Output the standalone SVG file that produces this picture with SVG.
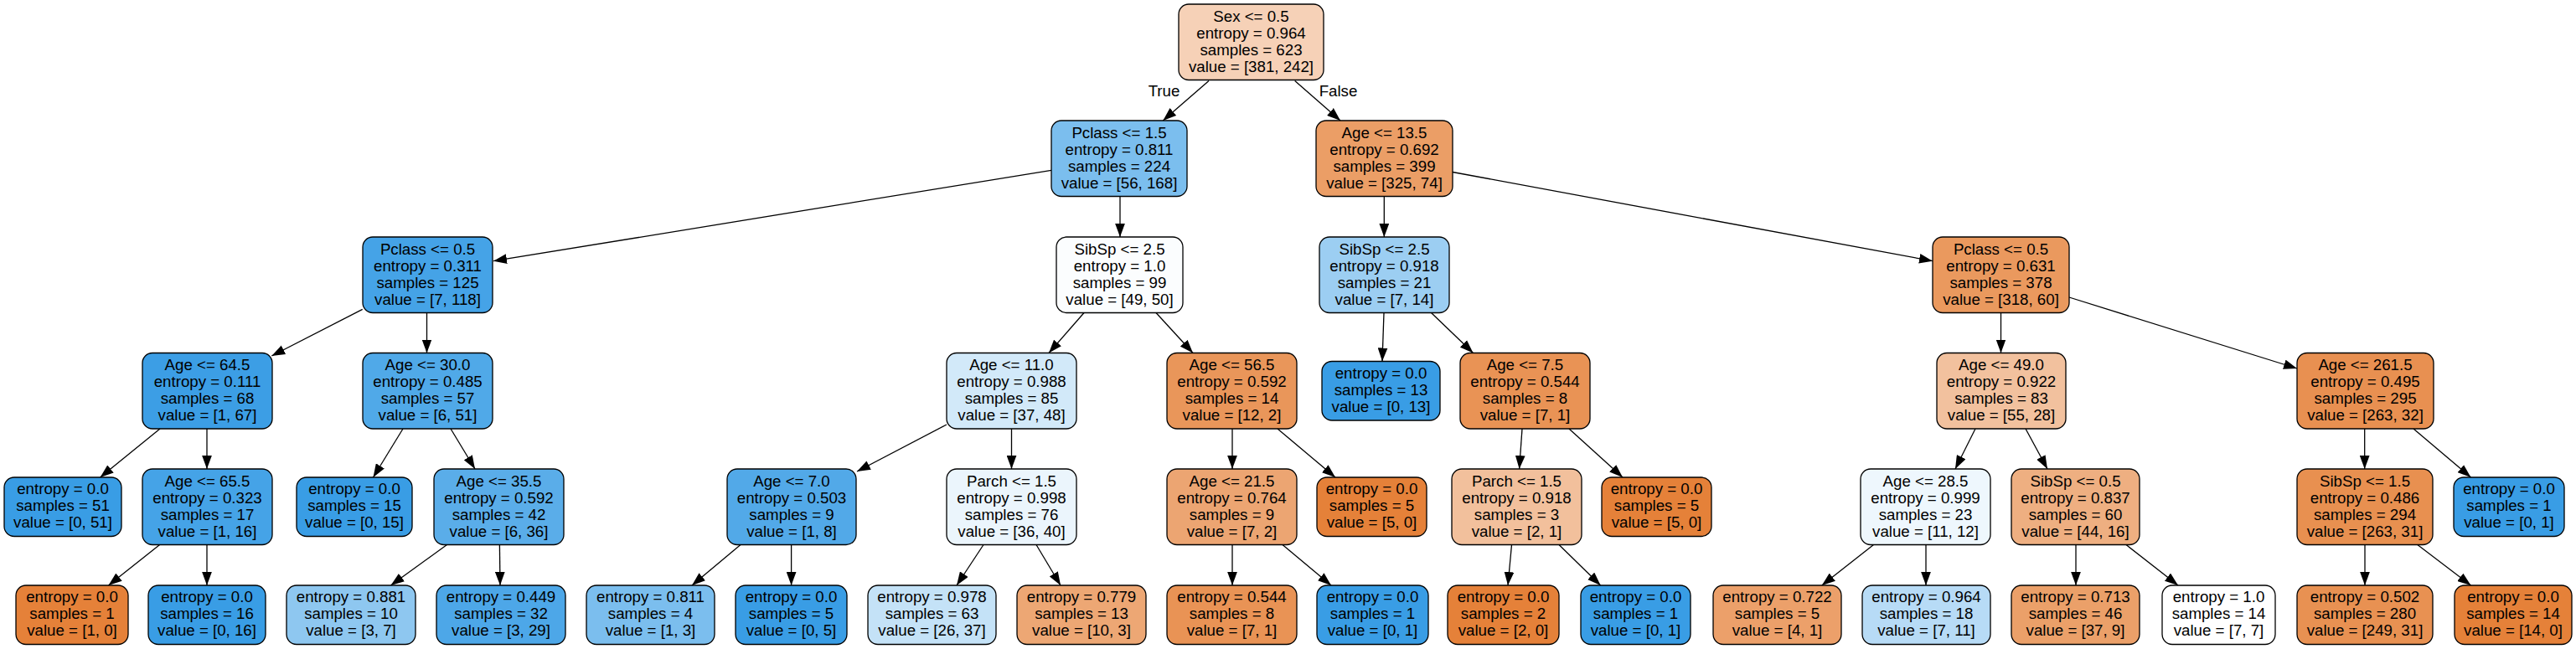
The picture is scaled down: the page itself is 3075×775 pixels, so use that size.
<svg xmlns="http://www.w3.org/2000/svg" width="3075" height="775" viewBox="0 0 3075 775">
<style>
.n rect{stroke:#000;stroke-width:1.3}
text{font-family:"Liberation Sans",Arial,sans-serif;font-size:18.7px;fill:#000;text-anchor:middle}
.e line{stroke:#000;stroke-width:1.3;marker-end:url(#ah)}
</style>
<defs>
<marker id="ah" markerUnits="userSpaceOnUse" markerWidth="16" markerHeight="12" viewBox="0 0 15 11" refX="15" refY="5.5" orient="auto">
<path d="M0,0 L15,5.5 L0,11 z" fill="#000"/>
</marker>
</defs>
<rect width="3075" height="775" fill="#fff"/>
<g id="edges" class="e">
<line x1="1443" y1="96.5" x2="1388.3" y2="144"/>
<line x1="1545.7" y1="96.5" x2="1600" y2="144"/>
<line x1="1255" y1="203.3" x2="589" y2="311.7"/>
<line x1="1337" y1="234.5" x2="1337" y2="283"/>
<line x1="1652.3" y1="234.5" x2="1652.3" y2="283"/>
<line x1="1734" y1="205.5" x2="2307" y2="311.7"/>
<line x1="432.7" y1="369.3" x2="324.3" y2="425"/>
<line x1="509.5" y1="373.5" x2="509.5" y2="421.5"/>
<line x1="1294" y1="373.5" x2="1252" y2="421.5"/>
<line x1="1380" y1="373.5" x2="1424" y2="421.5"/>
<line x1="1652" y1="373.5" x2="1650" y2="431.5"/>
<line x1="1708.5" y1="373.5" x2="1758.5" y2="421.5"/>
<line x1="2388.5" y1="373.5" x2="2388.5" y2="421.5"/>
<line x1="2470" y1="355" x2="2742" y2="440"/>
<line x1="191" y1="512" x2="119.6" y2="570"/>
<line x1="247" y1="512" x2="247" y2="560"/>
<line x1="481" y1="512" x2="445.5" y2="570"/>
<line x1="538" y1="512" x2="567" y2="560"/>
<line x1="1130" y1="507" x2="1023" y2="563"/>
<line x1="1207.5" y1="512" x2="1207.5" y2="560"/>
<line x1="1471" y1="512" x2="1471" y2="560"/>
<line x1="1525" y1="512" x2="1594" y2="570"/>
<line x1="1817" y1="512" x2="1813.6" y2="560"/>
<line x1="1873" y1="512" x2="1937" y2="570"/>
<line x1="2358" y1="512" x2="2334" y2="560"/>
<line x1="2418" y1="512" x2="2444" y2="560"/>
<line x1="2822.7" y1="512" x2="2822.7" y2="560"/>
<line x1="2881" y1="512" x2="2949.5" y2="570"/>
<line x1="190.6" y1="650.5" x2="129.5" y2="699"/>
<line x1="247" y1="650.5" x2="247" y2="699"/>
<line x1="533.5" y1="650.5" x2="466.5" y2="699"/>
<line x1="596.4" y1="650.5" x2="597" y2="699"/>
<line x1="884" y1="650.5" x2="826" y2="699"/>
<line x1="944.6" y1="650.5" x2="944.6" y2="699"/>
<line x1="1174" y1="650.5" x2="1142" y2="699"/>
<line x1="1237" y1="650.5" x2="1266" y2="699"/>
<line x1="1471" y1="650.5" x2="1471" y2="699"/>
<line x1="1531" y1="650.5" x2="1589" y2="699"/>
<line x1="1804.5" y1="650.5" x2="1800" y2="699"/>
<line x1="1861" y1="650.5" x2="1910.6" y2="699"/>
<line x1="2236.5" y1="650.5" x2="2174.8" y2="699"/>
<line x1="2299" y1="650.5" x2="2299" y2="699"/>
<line x1="2478" y1="650.5" x2="2478" y2="699"/>
<line x1="2538" y1="650.5" x2="2600" y2="699"/>
<line x1="2823" y1="650.5" x2="2823" y2="699"/>
<line x1="2885.8" y1="650.5" x2="2949.5" y2="699"/>
<text x="1389.5" y="114.5">True</text>
<text x="1597.5" y="114.5">False</text>
</g>

<g id="n0" class="n"><rect x="1407" y="5" width="173" height="90.5" rx="12" fill="#f6d1b7"/>
<text x="1493.5" y="25.7"><tspan x="1493.5">Sex &lt;= 0.5</tspan><tspan x="1493.5" dy="20">entropy = 0.964</tspan><tspan x="1493.5" dy="20">samples = 623</tspan><tspan x="1493.5" dy="20">value = [381, 242]</tspan></text></g>

<g id="n1" class="n"><rect x="1255" y="144" width="162" height="90.5" rx="12" fill="#7bbeee"/>
<text x="1336" y="164.7"><tspan x="1336">Pclass &lt;= 1.5</tspan><tspan x="1336" dy="20">entropy = 0.811</tspan><tspan x="1336" dy="20">samples = 224</tspan><tspan x="1336" dy="20">value = [56, 168]</tspan></text></g>

<g id="n2" class="n"><rect x="1571" y="144" width="163" height="90.5" rx="12" fill="#eb9e66"/>
<text x="1652.5" y="164.7"><tspan x="1652.5">Age &lt;= 13.5</tspan><tspan x="1652.5" dy="20">entropy = 0.692</tspan><tspan x="1652.5" dy="20">samples = 399</tspan><tspan x="1652.5" dy="20">value = [325, 74]</tspan></text></g>

<g id="n3" class="n"><rect x="433" y="283" width="155" height="90.5" rx="12" fill="#45a3e7"/>
<text x="510.5" y="303.7"><tspan x="510.5">Pclass &lt;= 0.5</tspan><tspan x="510.5" dy="20">entropy = 0.311</tspan><tspan x="510.5" dy="20">samples = 125</tspan><tspan x="510.5" dy="20">value = [7, 118]</tspan></text></g>

<g id="n4" class="n"><rect x="1261" y="283" width="151" height="90.5" rx="12" fill="#fbfdfe"/>
<text x="1336.5" y="303.7"><tspan x="1336.5">SibSp &lt;= 2.5</tspan><tspan x="1336.5" dy="20">entropy = 1.0</tspan><tspan x="1336.5" dy="20">samples = 99</tspan><tspan x="1336.5" dy="20">value = [49, 50]</tspan></text></g>

<g id="n5" class="n"><rect x="1575" y="283" width="155" height="90.5" rx="12" fill="#9ccef2"/>
<text x="1652.5" y="303.7"><tspan x="1652.5">SibSp &lt;= 2.5</tspan><tspan x="1652.5" dy="20">entropy = 0.918</tspan><tspan x="1652.5" dy="20">samples = 21</tspan><tspan x="1652.5" dy="20">value = [7, 14]</tspan></text></g>

<g id="n6" class="n"><rect x="2307" y="283" width="163" height="90.5" rx="12" fill="#ea995e"/>
<text x="2388.5" y="303.7"><tspan x="2388.5">Pclass &lt;= 0.5</tspan><tspan x="2388.5" dy="20">entropy = 0.631</tspan><tspan x="2388.5" dy="20">samples = 378</tspan><tspan x="2388.5" dy="20">value = [318, 60]</tspan></text></g>

<g id="n7" class="n"><rect x="170" y="421.5" width="155" height="90.5" rx="12" fill="#3c9ee5"/>
<text x="247.5" y="442.2"><tspan x="247.5">Age &lt;= 64.5</tspan><tspan x="247.5" dy="20">entropy = 0.111</tspan><tspan x="247.5" dy="20">samples = 68</tspan><tspan x="247.5" dy="20">value = [1, 67]</tspan></text></g>

<g id="n8" class="n"><rect x="433" y="421.5" width="155" height="90.5" rx="12" fill="#50a9e8"/>
<text x="510.5" y="442.2"><tspan x="510.5">Age &lt;= 30.0</tspan><tspan x="510.5" dy="20">entropy = 0.485</tspan><tspan x="510.5" dy="20">samples = 57</tspan><tspan x="510.5" dy="20">value = [6, 51]</tspan></text></g>

<g id="n9" class="n"><rect x="1130" y="421.5" width="155" height="90.5" rx="12" fill="#d2e9f9"/>
<text x="1207.5" y="442.2"><tspan x="1207.5">Age &lt;= 11.0</tspan><tspan x="1207.5" dy="20">entropy = 0.988</tspan><tspan x="1207.5" dy="20">samples = 85</tspan><tspan x="1207.5" dy="20">value = [37, 48]</tspan></text></g>

<g id="n10" class="n"><rect x="1393" y="421.5" width="155" height="90.5" rx="12" fill="#e9965a"/>
<text x="1470.5" y="442.2"><tspan x="1470.5">Age &lt;= 56.5</tspan><tspan x="1470.5" dy="20">entropy = 0.592</tspan><tspan x="1470.5" dy="20">samples = 14</tspan><tspan x="1470.5" dy="20">value = [12, 2]</tspan></text></g>

<g id="n11" class="n"><rect x="1578" y="431.5" width="141" height="70.5" rx="12" fill="#399de5"/>
<text x="1648.5" y="451.5"><tspan x="1648.5">entropy = 0.0</tspan><tspan x="1648.5" dy="20">samples = 13</tspan><tspan x="1648.5" dy="20">value = [0, 13]</tspan></text></g>

<g id="n12" class="n"><rect x="1743" y="421.5" width="155" height="90.5" rx="12" fill="#e99355"/>
<text x="1820.5" y="442.2"><tspan x="1820.5">Age &lt;= 7.5</tspan><tspan x="1820.5" dy="20">entropy = 0.544</tspan><tspan x="1820.5" dy="20">samples = 8</tspan><tspan x="1820.5" dy="20">value = [7, 1]</tspan></text></g>

<g id="n13" class="n"><rect x="2312" y="421.5" width="154" height="90.5" rx="12" fill="#f2c19e"/>
<text x="2389" y="442.2"><tspan x="2389">Age &lt;= 49.0</tspan><tspan x="2389" dy="20">entropy = 0.922</tspan><tspan x="2389" dy="20">samples = 83</tspan><tspan x="2389" dy="20">value = [55, 28]</tspan></text></g>

<g id="n14" class="n"><rect x="2742" y="421.5" width="163" height="90.5" rx="12" fill="#e89051"/>
<text x="2823.5" y="442.2"><tspan x="2823.5">Age &lt;= 261.5</tspan><tspan x="2823.5" dy="20">entropy = 0.495</tspan><tspan x="2823.5" dy="20">samples = 295</tspan><tspan x="2823.5" dy="20">value = [263, 32]</tspan></text></g>

<g id="n15" class="n"><rect x="5" y="570" width="140" height="70.5" rx="12" fill="#399de5"/>
<text x="75" y="590"><tspan x="75">entropy = 0.0</tspan><tspan x="75" dy="20">samples = 51</tspan><tspan x="75" dy="20">value = [0, 51]</tspan></text></g>

<g id="n16" class="n"><rect x="170" y="560" width="155" height="90.5" rx="12" fill="#45a3e7"/>
<text x="247.5" y="580.7"><tspan x="247.5">Age &lt;= 65.5</tspan><tspan x="247.5" dy="20">entropy = 0.323</tspan><tspan x="247.5" dy="20">samples = 17</tspan><tspan x="247.5" dy="20">value = [1, 16]</tspan></text></g>

<g id="n17" class="n"><rect x="354" y="570" width="138" height="70.5" rx="12" fill="#399de5"/>
<text x="423" y="590"><tspan x="423">entropy = 0.0</tspan><tspan x="423" dy="20">samples = 15</tspan><tspan x="423" dy="20">value = [0, 15]</tspan></text></g>

<g id="n18" class="n"><rect x="518" y="560" width="155" height="90.5" rx="12" fill="#5aade9"/>
<text x="595.5" y="580.7"><tspan x="595.5">Age &lt;= 35.5</tspan><tspan x="595.5" dy="20">entropy = 0.592</tspan><tspan x="595.5" dy="20">samples = 42</tspan><tspan x="595.5" dy="20">value = [6, 36]</tspan></text></g>

<g id="n19" class="n"><rect x="868" y="560" width="154" height="90.5" rx="12" fill="#52a9e8"/>
<text x="945" y="580.7"><tspan x="945">Age &lt;= 7.0</tspan><tspan x="945" dy="20">entropy = 0.503</tspan><tspan x="945" dy="20">samples = 9</tspan><tspan x="945" dy="20">value = [1, 8]</tspan></text></g>

<g id="n20" class="n"><rect x="1130" y="560" width="155" height="90.5" rx="12" fill="#ebf5fc"/>
<text x="1207.5" y="580.7"><tspan x="1207.5">Parch &lt;= 1.5</tspan><tspan x="1207.5" dy="20">entropy = 0.998</tspan><tspan x="1207.5" dy="20">samples = 76</tspan><tspan x="1207.5" dy="20">value = [36, 40]</tspan></text></g>

<g id="n21" class="n"><rect x="1393" y="560" width="155" height="90.5" rx="12" fill="#eca572"/>
<text x="1470.5" y="580.7"><tspan x="1470.5">Age &lt;= 21.5</tspan><tspan x="1470.5" dy="20">entropy = 0.764</tspan><tspan x="1470.5" dy="20">samples = 9</tspan><tspan x="1470.5" dy="20">value = [7, 2]</tspan></text></g>

<g id="n22" class="n"><rect x="1572" y="570" width="131" height="70.5" rx="12" fill="#e58139"/>
<text x="1637.5" y="590"><tspan x="1637.5">entropy = 0.0</tspan><tspan x="1637.5" dy="20">samples = 5</tspan><tspan x="1637.5" dy="20">value = [5, 0]</tspan></text></g>

<g id="n23" class="n"><rect x="1733" y="560" width="155" height="90.5" rx="12" fill="#f2c09c"/>
<text x="1810.5" y="580.7"><tspan x="1810.5">Parch &lt;= 1.5</tspan><tspan x="1810.5" dy="20">entropy = 0.918</tspan><tspan x="1810.5" dy="20">samples = 3</tspan><tspan x="1810.5" dy="20">value = [2, 1]</tspan></text></g>

<g id="n24" class="n"><rect x="1912" y="570" width="131" height="70.5" rx="12" fill="#e58139"/>
<text x="1977.5" y="590"><tspan x="1977.5">entropy = 0.0</tspan><tspan x="1977.5" dy="20">samples = 5</tspan><tspan x="1977.5" dy="20">value = [5, 0]</tspan></text></g>

<g id="n25" class="n"><rect x="2221" y="560" width="155" height="90.5" rx="12" fill="#eef7fd"/>
<text x="2298.5" y="580.7"><tspan x="2298.5">Age &lt;= 28.5</tspan><tspan x="2298.5" dy="20">entropy = 0.999</tspan><tspan x="2298.5" dy="20">samples = 23</tspan><tspan x="2298.5" dy="20">value = [11, 12]</tspan></text></g>

<g id="n26" class="n"><rect x="2401" y="560" width="153" height="90.5" rx="12" fill="#eeaf81"/>
<text x="2477.5" y="580.7"><tspan x="2477.5">SibSp &lt;= 0.5</tspan><tspan x="2477.5" dy="20">entropy = 0.837</tspan><tspan x="2477.5" dy="20">samples = 60</tspan><tspan x="2477.5" dy="20">value = [44, 16]</tspan></text></g>

<g id="n27" class="n"><rect x="2742" y="560" width="162" height="90.5" rx="12" fill="#e89050"/>
<text x="2823" y="580.7"><tspan x="2823">SibSp &lt;= 1.5</tspan><tspan x="2823" dy="20">entropy = 0.486</tspan><tspan x="2823" dy="20">samples = 294</tspan><tspan x="2823" dy="20">value = [263, 31]</tspan></text></g>

<g id="n28" class="n"><rect x="2929" y="570" width="132" height="70.5" rx="12" fill="#399de5"/>
<text x="2995" y="590"><tspan x="2995">entropy = 0.0</tspan><tspan x="2995" dy="20">samples = 1</tspan><tspan x="2995" dy="20">value = [0, 1]</tspan></text></g>

<g id="n29" class="n"><rect x="19" y="699" width="134" height="70.5" rx="12" fill="#e58139"/>
<text x="86" y="719"><tspan x="86">entropy = 0.0</tspan><tspan x="86" dy="20">samples = 1</tspan><tspan x="86" dy="20">value = [1, 0]</tspan></text></g>

<g id="n30" class="n"><rect x="177" y="699" width="140" height="70.5" rx="12" fill="#399de5"/>
<text x="247" y="719"><tspan x="247">entropy = 0.0</tspan><tspan x="247" dy="20">samples = 16</tspan><tspan x="247" dy="20">value = [0, 16]</tspan></text></g>

<g id="n31" class="n"><rect x="342" y="699" width="154" height="70.5" rx="12" fill="#8ec7f0"/>
<text x="419" y="719"><tspan x="419">entropy = 0.881</tspan><tspan x="419" dy="20">samples = 10</tspan><tspan x="419" dy="20">value = [3, 7]</tspan></text></g>

<g id="n32" class="n"><rect x="521" y="699" width="154" height="70.5" rx="12" fill="#4da7e8"/>
<text x="598" y="719"><tspan x="598">entropy = 0.449</tspan><tspan x="598" dy="20">samples = 32</tspan><tspan x="598" dy="20">value = [3, 29]</tspan></text></g>

<g id="n33" class="n"><rect x="700" y="699" width="153" height="70.5" rx="12" fill="#7bbeee"/>
<text x="776.5" y="719"><tspan x="776.5">entropy = 0.811</tspan><tspan x="776.5" dy="20">samples = 4</tspan><tspan x="776.5" dy="20">value = [1, 3]</tspan></text></g>

<g id="n34" class="n"><rect x="878" y="699" width="133" height="70.5" rx="12" fill="#399de5"/>
<text x="944.5" y="719"><tspan x="944.5">entropy = 0.0</tspan><tspan x="944.5" dy="20">samples = 5</tspan><tspan x="944.5" dy="20">value = [0, 5]</tspan></text></g>

<g id="n35" class="n"><rect x="1036" y="699" width="153" height="70.5" rx="12" fill="#c4e2f7"/>
<text x="1112.5" y="719"><tspan x="1112.5">entropy = 0.978</tspan><tspan x="1112.5" dy="20">samples = 63</tspan><tspan x="1112.5" dy="20">value = [26, 37]</tspan></text></g>

<g id="n36" class="n"><rect x="1214" y="699" width="154" height="70.5" rx="12" fill="#eda774"/>
<text x="1291" y="719"><tspan x="1291">entropy = 0.779</tspan><tspan x="1291" dy="20">samples = 13</tspan><tspan x="1291" dy="20">value = [10, 3]</tspan></text></g>

<g id="n37" class="n"><rect x="1393" y="699" width="155" height="70.5" rx="12" fill="#e99355"/>
<text x="1470.5" y="719"><tspan x="1470.5">entropy = 0.544</tspan><tspan x="1470.5" dy="20">samples = 8</tspan><tspan x="1470.5" dy="20">value = [7, 1]</tspan></text></g>

<g id="n38" class="n"><rect x="1572" y="699" width="133" height="70.5" rx="12" fill="#399de5"/>
<text x="1638.5" y="719"><tspan x="1638.5">entropy = 0.0</tspan><tspan x="1638.5" dy="20">samples = 1</tspan><tspan x="1638.5" dy="20">value = [0, 1]</tspan></text></g>

<g id="n39" class="n"><rect x="1728" y="699" width="133" height="70.5" rx="12" fill="#e58139"/>
<text x="1794.5" y="719"><tspan x="1794.5">entropy = 0.0</tspan><tspan x="1794.5" dy="20">samples = 2</tspan><tspan x="1794.5" dy="20">value = [2, 0]</tspan></text></g>

<g id="n40" class="n"><rect x="1887" y="699" width="131" height="70.5" rx="12" fill="#399de5"/>
<text x="1952.5" y="719"><tspan x="1952.5">entropy = 0.0</tspan><tspan x="1952.5" dy="20">samples = 1</tspan><tspan x="1952.5" dy="20">value = [0, 1]</tspan></text></g>

<g id="n41" class="n"><rect x="2045" y="699" width="153" height="70.5" rx="12" fill="#eca06a"/>
<text x="2121.5" y="719"><tspan x="2121.5">entropy = 0.722</tspan><tspan x="2121.5" dy="20">samples = 5</tspan><tspan x="2121.5" dy="20">value = [4, 1]</tspan></text></g>

<g id="n42" class="n"><rect x="2223" y="699" width="153" height="70.5" rx="12" fill="#b7dbf6"/>
<text x="2299.5" y="719"><tspan x="2299.5">entropy = 0.964</tspan><tspan x="2299.5" dy="20">samples = 18</tspan><tspan x="2299.5" dy="20">value = [7, 11]</tspan></text></g>

<g id="n43" class="n"><rect x="2401" y="699" width="153" height="70.5" rx="12" fill="#eba069"/>
<text x="2477.5" y="719"><tspan x="2477.5">entropy = 0.713</tspan><tspan x="2477.5" dy="20">samples = 46</tspan><tspan x="2477.5" dy="20">value = [37, 9]</tspan></text></g>

<g id="n44" class="n"><rect x="2581" y="699" width="135" height="70.5" rx="12" fill="#ffffff"/>
<text x="2648.5" y="719"><tspan x="2648.5">entropy = 1.0</tspan><tspan x="2648.5" dy="20">samples = 14</tspan><tspan x="2648.5" dy="20">value = [7, 7]</tspan></text></g>

<g id="n45" class="n"><rect x="2742" y="699" width="162" height="70.5" rx="12" fill="#e89152"/>
<text x="2823" y="719"><tspan x="2823">entropy = 0.502</tspan><tspan x="2823" dy="20">samples = 280</tspan><tspan x="2823" dy="20">value = [249, 31]</tspan></text></g>

<g id="n46" class="n"><rect x="2930" y="699" width="140" height="70.5" rx="12" fill="#e58139"/>
<text x="3000" y="719"><tspan x="3000">entropy = 0.0</tspan><tspan x="3000" dy="20">samples = 14</tspan><tspan x="3000" dy="20">value = [14, 0]</tspan></text></g>
</svg>
